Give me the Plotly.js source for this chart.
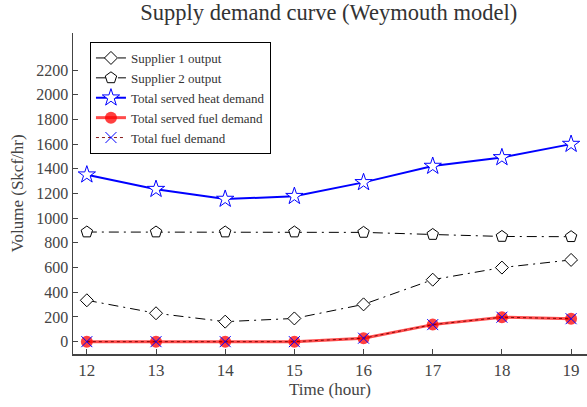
<!DOCTYPE html>
<html>
<head>
<meta charset="utf-8">
<script src="https://cdn.plot.ly/plotly-3.0.1.min.js"></script>
<style>html,body{margin:0;padding:0;background:#fff;}#chart{width:587px;height:407px;}</style>
</head>
<body>
<div id="chart"></div>
<script>
const hours = [12, 13, 14, 15, 16, 17, 18, 19];
const supplier1 = [335, 230, 162, 188, 302, 502, 600, 662];
const supplier2 = [888, 888, 888, 888, 885, 868, 852, 850];
const heatDemand = [1352, 1235, 1155, 1178, 1290, 1422, 1492, 1600];
const servedFuel = [0, 0, 0, 0, 28, 138, 198, 186];
const fuelDemand = [0, 0, 0, 0, 28, 138, 198, 186];
const names = ["Supplier 1 output", "Supplier 2 output", "Total served heat demand", "Total served fuel demand", "Total fuel demand"];
const yTicks = [0, 200, 400, 600, 800, 1000, 1200, 1400, 1600, 1800, 2000, 2200];

const FONT = "Liberation Serif, Times New Roman, serif";
const dashdot = "10px,5px,2px,5px";

const traces = [
  {x: hours, y: supplier1, name: names[0], mode: "lines+markers",
   line: {color: "black", width: 1, dash: dashdot},
   marker: {symbol: "diamond", size: 10, color: "white", line: {color: "black", width: 1}}},
  {x: hours, y: supplier2, name: names[1], mode: "lines+markers",
   line: {color: "black", width: 1, dash: dashdot},
   marker: {symbol: "pentagon", size: 12, color: "white", line: {color: "black", width: 1}}},
  {x: hours, y: heatDemand, name: names[2], mode: "lines+markers",
   line: {color: "blue", width: 2},
   marker: {symbol: "star", size: 13, color: "white", line: {color: "blue", width: 1}}},
  {x: hours, y: servedFuel, name: names[3], mode: "lines+markers",
   line: {color: "rgba(255,0,0,0.7)", width: 3},
   marker: {symbol: "circle", size: 12, color: "rgba(255,0,0,0.75)", line: {width: 0}}},
  {x: hours, y: fuelDemand, name: names[4], mode: "lines+markers",
   line: {color: "rgba(120,0,0,0.9)", width: 1, dash: "dot"},
   marker: {symbol: "x-thin", size: 11, color: "blue", line: {color: "blue", width: 1}}}
];

const layout = {
  width: 587, height: 407,
  margin: {l: 73, r: 0, t: 33, b: 53},
  paper_bgcolor: "white", plot_bgcolor: "white",
  font: {family: FONT, size: 16, color: "#444"},
  title: {text: "Supply demand curve (Weymouth model)", font: {family: FONT, size: 22.5, color: "#333"}, x: 0.56, xanchor: "center", y: 0.99, yanchor: "top"},
  showlegend: true,
  legend: {x: 0.033, y: 0.972, xanchor: "left", yanchor: "top", bgcolor: "white", bordercolor: "black", borderwidth: 1,
           font: {family: FONT, size: 13, color: "#333"}, tracegroupgap: 0, itemwidth: 30},
  xaxis: {range: [11.8, 19.23], tickvals: hours, ticktext: hours.map(String), ticks: "inside", ticklen: 5, tickcolor: "#444",
          showline: true, linecolor: "#444", linewidth: 1.5, showgrid: false, zeroline: false,
          tickfont: {family: FONT, size: 17, color: "#444"},
          title: {text: "Time (hour)", font: {family: FONT, size: 17, color: "#444"}, standoff: 4}},
  yaxis: {range: [-100, 2500], tickvals: yTicks, ticktext: yTicks.map(String), ticks: "inside", ticklen: 5, tickcolor: "#444",
          showline: true, linecolor: "#444", linewidth: 1.5, showgrid: false, zeroline: false,
          tickfont: {family: FONT, size: 16, color: "#444"},
          title: {text: "Volume (Skcf/hr)", font: {family: FONT, size: 17, color: "#444"}, standoff: 8}}
};

Plotly.newPlot("chart", traces, layout, {displayModeBar: false, staticPlot: true});
</script>
</body>
</html>
